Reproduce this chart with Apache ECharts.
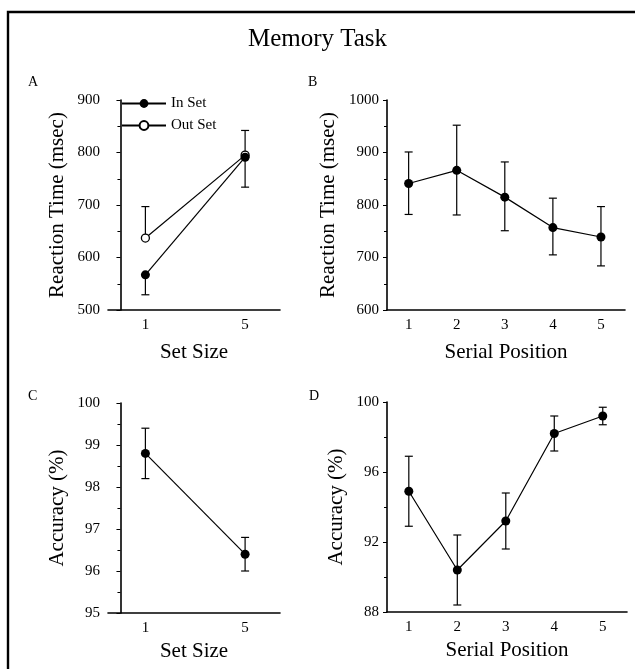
<!DOCTYPE html>
<html>
<head>
<meta charset="utf-8">
<script src="https://cdn.jsdelivr.net/npm/echarts@6/dist/echarts.min.js"></script>
<style>
  html, body { margin: 0; padding: 0; background: #fff; }
  #main { width: 635px; height: 669px; }
</style>
</head>
<body>
<div id="main"></div>
<script>
// set size panels (A, C)
const setSize = [1, 5];
const inSetRT = [567, 791];
const inSetRTLow = [529, 734];
const outSetRT = [637, 795];
const outSetRTHigh = [697, 842];
const setSizeAcc = [98.8, 96.4];
const setSizeAccLow = [98.2, 96.0];
const setSizeAccHigh = [99.4, 96.8];

// serial position panels (B, D)
const serialPos = [1, 2, 3, 4, 5];
const serialRT = [841, 866, 815, 757, 739];
const serialRTLow = [782, 781, 751, 705, 684];
const serialRTHigh = [901, 952, 882, 813, 797];
const serialAcc = [94.9, 90.4, 93.2, 98.2, 99.2];
const serialAccLow = [92.9, 88.4, 91.6, 97.2, 98.7];
const serialAccHigh = [96.9, 92.4, 94.8, 99.2, 99.7];

const FONT = "Liberation Serif";
const chart = echarts.init(document.getElementById("main"));

function pairs(xs, ys) {
  return xs.map((x, i) => [x, ys[i]]);
}
function bars(xs, lo, hi) {
  return xs.map((x, i) => [x, lo[i], hi[i]]);
}

// error bar drawn with caps at both ends
function errorBar(params, api) {
  const x = api.value(0);
  const p1 = api.coord([x, api.value(1)]);
  const p2 = api.coord([x, api.value(2)]);
  const hw = 4;
  const style = { stroke: "#000", lineWidth: 1.2 };
  return {
    type: "group",
    children: [
      { type: "line", shape: { x1: p1[0], y1: p1[1], x2: p2[0], y2: p2[1] }, style: style },
      { type: "line", shape: { x1: p1[0] - hw, y1: p1[1], x2: p1[0] + hw, y2: p1[1] }, style: style },
      { type: "line", shape: { x1: p2[0] - hw, y1: p2[1], x2: p2[0] + hw, y2: p2[1] }, style: style },
    ],
  };
}

function xAxis(idx, min, max, ticks, name, gap) {
  return {
    gridIndex: idx,
    type: "value",
    min: min,
    max: max,
    name: name,
    nameLocation: "middle",
    nameGap: gap,
    nameTextStyle: { fontFamily: FONT, fontSize: 21, color: "#000" },
    axisLine: { show: true, lineStyle: { color: "#000", width: 1.6 } },
    axisTick: { show: false },
    splitLine: { show: false },
    axisLabel: {
      customValues: ticks,
      fontFamily: FONT,
      fontSize: 15,
      color: "#000",
      margin: 8,
    },
  };
}

function yAxis(idx, min, max, interval, name, gap) {
  return {
    gridIndex: idx,
    type: "value",
    min: min,
    max: max,
    interval: interval,
    name: name,
    nameLocation: "middle",
    nameGap: gap,
    nameTextStyle: { fontFamily: FONT, fontSize: 21, color: "#000" },
    axisLine: { show: true, lineStyle: { color: "#000", width: 1.6 } },
    axisTick: { show: true, length: 4, lineStyle: { color: "#000", width: 1 } },
    minorTick: { show: true, splitNumber: 2, length: 3, lineStyle: { color: "#000", width: 1 } },
    splitLine: { show: false },
    axisLabel: {
      fontFamily: FONT,
      fontSize: 15,
      color: "#000",
      margin: 8,
      formatter: (v) => String(v),
    },
  };
}

function lineSeries(name, idx, data, hollow, z) {
  return {
    name: name,
    type: "line",
    xAxisIndex: idx,
    yAxisIndex: idx,
    data: data,
    symbol: "circle",
    symbolSize: hollow ? 8 : 9,
    z: z || 3,
    lineStyle: { color: "#000", width: 1.2 },
    itemStyle: {
      color: hollow ? "#fff" : "#000",
      borderColor: "#000",
      borderWidth: hollow ? 1.3 : 0,
    },
    animation: false,
  };
}

function errSeries(idx, data) {
  return {
    type: "custom",
    xAxisIndex: idx,
    yAxisIndex: idx,
    renderItem: errorBar,
    data: data,
    z: 1,
    animation: false,
  };
}

const panelLabel = (text, left, top) => ({
  text: text,
  left: left,
  top: top,
  textStyle: { fontFamily: FONT, fontSize: 14, fontWeight: "normal", color: "#000" },
});

chart.setOption({
  backgroundColor: "#fff",
  animation: false,
  title: [
    {
      text: "Memory Task",
      left: "center",
      top: 22,
      textStyle: { fontFamily: FONT, fontSize: 25, fontWeight: "normal", color: "#000" },
    },
    panelLabel("A", 23, 70),
    panelLabel("B", 303, 70),
    panelLabel("C", 23, 384),
    panelLabel("D", 304, 384),
  ],
  graphic: [
    {
      type: "rect",
      shape: { x: 8, y: 12, width: 700, height: 700 },
      style: { fill: "none", stroke: "#000", lineWidth: 2.4 },
      silent: true,
    },
  ],
  legend: {
    data: ["In Set", "Out Set"],
    orient: "vertical",
    left: 116,
    top: 91,
    itemWidth: 44,
    itemHeight: 11,
    itemGap: 7,
    textStyle: { fontFamily: FONT, fontSize: 15, color: "#000" },
  },
  grid: [
    { left: 108, top: 100, width: 172, height: 210 },
    { left: 387, top: 100, width: 238, height: 210 },
    { left: 108, top: 403, width: 172, height: 210 },
    { left: 387, top: 402, width: 240, height: 210 },
  ],
  xAxis: [
    xAxis(0, -0.5, 6.4, setSize, "Set Size", 32),
    xAxis(1, 0.55, 5.5, serialPos, "Serial Position", 32),
    xAxis(2, -0.5, 6.4, setSize, "Set Size", 28),
    xAxis(3, 0.55, 5.5, serialPos, "Serial Position", 28),
  ],
  yAxis: [
    yAxis(0, 500, 900, 100, "Reaction Time (msec)", 40),
    yAxis(1, 600, 1000, 100, "Reaction Time (msec)", 48),
    yAxis(2, 95, 100, 1, "Accuracy (%)", 40),
    yAxis(3, 88, 100, 4, "Accuracy (%)", 40),
  ],
  series: [
    errSeries(0, bars(setSize, inSetRTLow, inSetRT)),
    errSeries(0, bars(setSize, outSetRT, outSetRTHigh)),
    lineSeries("Out Set", 0, pairs(setSize, outSetRT), true, 3),
    lineSeries("In Set", 0, pairs(setSize, inSetRT), false, 4),
    errSeries(1, bars(serialPos, serialRTLow, serialRTHigh)),
    lineSeries("Serial RT", 1, pairs(serialPos, serialRT), false),
    errSeries(2, bars(setSize, setSizeAccLow, setSizeAccHigh)),
    lineSeries("Set Size Acc", 2, pairs(setSize, setSizeAcc), false),
    errSeries(3, bars(serialPos, serialAccLow, serialAccHigh)),
    lineSeries("Serial Acc", 3, pairs(serialPos, serialAcc), false),
  ],
});
</script>
</body>
</html>
